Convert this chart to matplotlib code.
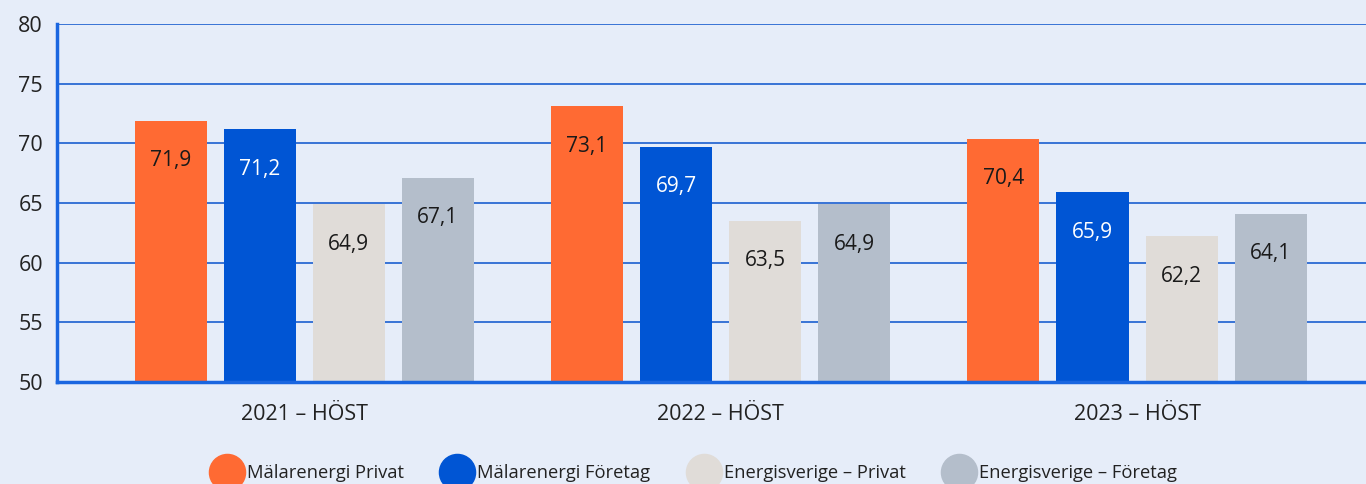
import matplotlib
matplotlib.use('Agg')
import matplotlib.pyplot as plt
from matplotlib.lines import Line2D
import numpy as np

plt.rcParams['font.family'] = ['Open Sans', 'DejaVu Sans']

kategorier = ['2021 – HÖST', '2022 – HÖST', '2023 – HÖST']
serier = ['Mälarenergi Privat', 'Mälarenergi Företag',
          'Energisverige – Privat', 'Energisverige – Företag']
varden = [
    [71.9, 73.1, 70.4],
    [71.2, 69.7, 65.9],
    [64.9, 63.5, 62.2],
    [67.1, 64.9, 64.1],
]
farger = ['#ff6a33', '#0055d4', '#e0dcd8', '#b4becb']
textfarger = ['#1a1a1a', '#ffffff', '#1a1a1a', '#1a1a1a']
bakgrund = '#e6edf9'
bla = '#1a5fd0'

fig = plt.figure(figsize=(13.66, 4.84), dpi=100, facecolor=bakgrund)
ax = fig.add_axes([57/1366, 102/484, 1 - 57/1366, 358/484], facecolor=bakgrund)

x = np.arange(len(kategorier))
steg = 89/416
bredd = 72/416
for i, (namn, v) in enumerate(zip(serier, varden)):
    pos = x + (i - 1.5)*steg
    ax.bar(pos, v, width=bredd, color=farger[i], zorder=3, label=namn)
    for p, val in zip(pos, v):
        ax.annotate(f'{val:.1f}'.replace('.', ','), (p, val), xytext=(0, -40),
                    textcoords='offset pixels', ha='center', va='center',
                    fontsize=15, color=textfarger[i], zorder=4)

ax.set_ylim(50, 80)
ax.set_xlim(-0.594, 2.55)
ax.set_yticks(range(50, 81, 5))
ax.set_xticks(x)
ax.set_xticklabels(kategorier)
ax.tick_params(axis='both', length=0, labelsize=15.5, colors='#222222')
ax.tick_params(axis='x', pad=16)
ax.tick_params(axis='y', pad=10)
ax.grid(axis='y', color=bla, linewidth=1.2, zorder=1)
ax.set_axisbelow(True)
for s in ['top', 'right']:
    ax.spines[s].set_visible(False)
ax.spines['left'].set_color('#1a66e0')
ax.spines['left'].set_linewidth(2.5)
ax.spines['bottom'].set_color('#1a66e0')
ax.spines['bottom'].set_linewidth(2.5)
ax.spines['bottom'].set_zorder(5)

handtag = [Line2D([], [], marker='o', linestyle='none', markersize=26,
                  markerfacecolor=c, markeredgecolor=c) for c in farger]
fig.legend(handtag, serier, loc='center', bbox_to_anchor=(0.5085, 0.022),
           ncol=4, frameon=False, fontsize=13.2, handletextpad=0.3,
           columnspacing=2.1, handlelength=1.6, labelcolor='#222222')

fig.savefig('out.png', dpi=100, facecolor=bakgrund)
